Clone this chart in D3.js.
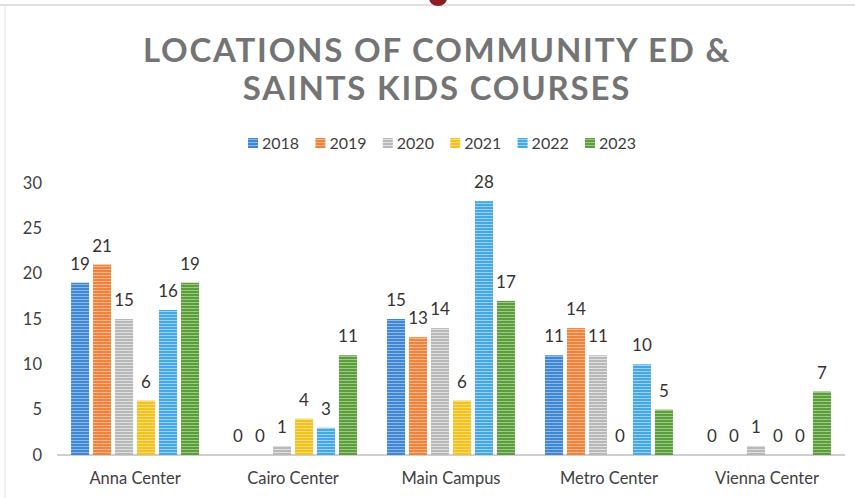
<!doctype html>
<html lang="en">
<head>
<meta charset="utf-8">
<script src="https://d3js.org/d3.v7.min.js"></script>
<style>
  body { margin: 0; background: #fff; }
  svg { display: block; }
</style>
</head>
<body>
<div id="viz"></div>
<script>
// data
const locations = ["Anna Center", "Cairo Center", "Main Campus", "Metro Center", "Vienna Center"];
const years = ["2018", "2019", "2020", "2021", "2022", "2023"];
const counts2018 = [19, 0, 15, 11, 0];
const counts2019 = [21, 0, 13, 14, 0];
const counts2020 = [15, 1, 14, 11, 1];
const counts2021 = [6, 4, 6, 0, 0];
const counts2022 = [16, 3, 28, 10, 0];
const counts2023 = [19, 11, 17, 5, 7];
const yTicks = [0, 5, 10, 15, 20, 25, 30];

const series = [counts2018, counts2019, counts2020, counts2021, counts2022, counts2023];
const colors = ["#3f86d3", "#f0823a", "#b8b8b8", "#f4c21c", "#44a7e6", "#5c9e3c"];
const stripe = ["#8cb9e8", "#f7b48a", "#e0e0e0", "#f8dc7a", "#9ad0f2", "#9cc986"];

const width = 855, height = 498;
const margin = {left: 57, right: 10, top: 183, bottom: 43};
const font = "Lato, 'Open Sans', sans-serif";

const svg = d3.select("#viz").append("svg")
    .attr("width", width)
    .attr("height", height)
    .style("font-family", font);

// striped fills, like the scanned bars
const defs = svg.append("defs");
years.forEach((y, i) => {
  const p = defs.append("pattern")
      .attr("id", "fill-" + y)
      .attr("patternUnits", "userSpaceOnUse")
      .attr("width", 6).attr("height", 3);
  p.append("rect").attr("width", 6).attr("height", 3).attr("fill", colors[i]);
  p.append("rect").attr("y", 2).attr("width", 6).attr("height", 1).attr("fill", stripe[i]);
});

// page frame from the scan
svg.append("line").attr("x1", 0).attr("x2", width).attr("y1", 5).attr("y2", 5)
    .attr("stroke", "#d6d6d6").attr("stroke-width", 1.5);
svg.append("line").attr("x1", 5).attr("x2", 5).attr("y1", 5).attr("y2", height)
    .attr("stroke", "#e2e2e2").attr("stroke-width", 1);
svg.append("ellipse").attr("cx", 438).attr("cy", -2).attr("rx", 9).attr("ry", 8)
    .attr("fill", "#8a1f26");

// title
const title = svg.append("text")
    .attr("text-anchor", "middle")
    .attr("fill", "#747474")
    .attr("font-size", 33)
    .attr("font-weight", "bold")
    .attr("letter-spacing", 1.8);
title.append("tspan").attr("x", 437).attr("y", 62).text("LOCATIONS OF COMMUNITY ED &");
title.append("tspan").attr("x", 437).attr("y", 100).text("SAINTS KIDS COURSES");

const x0 = d3.scaleBand()
    .domain(locations)
    .range([margin.left, width - margin.right])
    .paddingInner(0.19)
    .paddingOuter(0.089);

const x1 = d3.scaleBand()
    .domain(years)
    .range([0, x0.bandwidth()])
    .paddingInner(0.18)
    .paddingOuter(0);

const y = d3.scaleLinear()
    .domain([0, 30])
    .range([height - margin.bottom, margin.top]);

// legend
const legend = svg.append("g").attr("font-size", 16).attr("fill", "#404040");
const legItem = legend.selectAll("g").data(years).join("g")
    .attr("transform", (d, i) => `translate(${248 + i * 67.4},143)`);
legItem.append("rect")
    .attr("x", 0).attr("y", -5).attr("width", 10).attr("height", 10)
    .attr("fill", d => `url(#fill-${d})`);
legItem.append("text")
    .attr("x", 14).attr("dy", "0.35em")
    .text(d => d);

// y axis labels, no line
const yAxis = svg.append("g")
    .attr("transform", `translate(${margin.left},0)`)
    .call(d3.axisLeft(y).tickValues(yTicks).tickSize(0).tickPadding(15));
yAxis.select(".domain").remove();
yAxis.selectAll("text")
    .attr("font-family", font)
    .attr("font-size", 16.5)
    .attr("fill", "#404040");

// baseline
svg.append("line")
    .attr("x1", margin.left).attr("x2", width - margin.right)
    .attr("y1", y(0)).attr("y2", y(0))
    .attr("stroke", "#bfbfbf").attr("stroke-width", 1.5);

// bars
const groups = svg.append("g").selectAll("g")
    .data(locations)
    .join("g")
    .attr("transform", d => `translate(${x0(d)},0)`);

const cells = groups.selectAll("g")
    .data((loc, li) => years.map((yr, si) => ({yr, v: series[si][li]})))
    .join("g");

cells.append("rect")
    .attr("x", d => x1(d.yr))
    .attr("y", d => y(d.v))
    .attr("width", x1.bandwidth())
    .attr("height", d => y(0) - y(d.v))
    .attr("fill", d => `url(#fill-${d.yr})`);

cells.append("text")
    .attr("x", d => x1(d.yr) + x1.bandwidth() / 2)
    .attr("y", d => y(d.v) - 13)
    .attr("text-anchor", "middle")
    .attr("font-size", 17)
    .attr("fill", "#333")
    .text(d => d.v);

// category labels
const xAxis = svg.append("g")
    .attr("transform", `translate(0,${y(0)})`)
    .call(d3.axisBottom(x0).tickSize(0).tickPadding(17));
xAxis.select(".domain").remove();
xAxis.selectAll("text")
    .attr("font-family", font)
    .attr("font-size", 16.5)
    .attr("fill", "#404040");
</script>
</body>
</html>
